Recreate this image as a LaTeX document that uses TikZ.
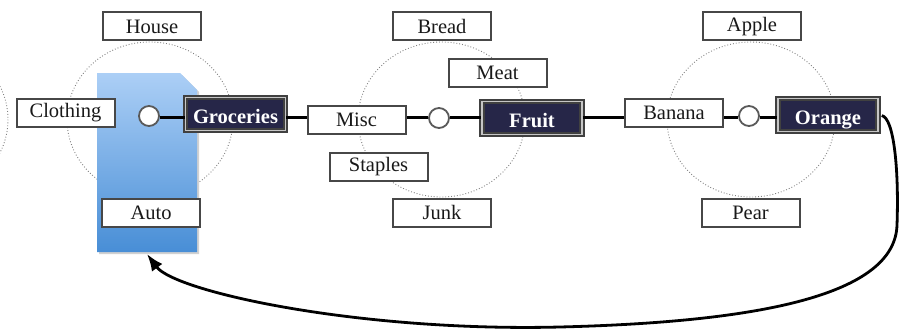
\documentclass[tikz,border=0pt]{standalone}
\usepackage{fontspec}
\setmainfont{Liberation Serif}
\usetikzlibrary{arrows.meta}
\definecolor{navy}{RGB}{38,38,72}
\definecolor{bluetop}{RGB}{172,207,246}
\definecolor{bluebot}{RGB}{72,142,214}
\begin{document}
\begin{tikzpicture}[x=1pt,y=-1pt,
  box/.style={draw=black!72, line width=2pt, fill=white, minimum width=98pt,
    minimum height=28pt, inner sep=0pt, font=\fontsize{20.5}{24}\selectfont, text=black!90},
  darkbox/.style={draw=black!75, line width=1.7pt, double=gray!45, double distance=1.7pt,
    fill=navy, minimum width=100pt, minimum height=33pt, inner sep=0pt,
    path picture={\node[text=white, font=\bfseries\fontsize{20.5}{24}\selectfont, anchor=base,
      inner sep=0pt] at ([yshift=-9.5pt]path picture bounding box.center) {#1};}},
  hub/.style={circle, draw=black!65, line width=1.8pt, fill=white, minimum size=20pt, inner sep=0pt},
  link/.style={line width=2.6pt, draw=black},
  ring/.style={draw=black!50, dotted, line width=0.9pt}]
\useasboundingbox (0,0) rectangle (899,329);
% dotted rings
\draw[ring] (-75,119.5) ellipse [x radius=83, y radius=77.5];
\draw[ring] (150,119.5) ellipse [x radius=83, y radius=77.5];
\draw[ring] (441.5,119.5) ellipse [x radius=83.5, y radius=77.5];
\draw[ring] (751,119.5) ellipse [x radius=84, y radius=77.5];
% blue document shape
\fill[black!18] (99,75) -- (182,75) -- (199,92) -- (199,254) -- (99,254) -- cycle;
\shade[top color=bluetop, bottom color=bluebot] (97,73) -- (180,73) -- (197,90) -- (197,252) -- (97,252) -- cycle;
% nodes
\node[box] (house) at (152,26.5) {House};
\node[box] (clothing) at (65.5,113) {Clothing};
\node[box] (auto) at (151,213) {Auto};
\node[hub] (h1) at (149,116) {};
\node[darkbox=Groceries] (groceries) at (235.5,114) {};
\node[box] (bread) at (442,26.5) {Bread};
\node[box] (meat) at (497.5,73) {Meat};
\node[box] (misc) at (356.5,120) {Misc};
\node[hub] (h2) at (439,118) {};
\node[darkbox=Fruit] (fruit) at (532,118) {};
\node[box] (staples) at (378.5,167) {Staples};
\node[box] (junk) at (442,212.5) {Junk};
\node[box] (apple) at (752,26.5) {Apple};
\node[box] (banana) at (674,113) {Banana};
\node[hub] (h3) at (749,116) {};
\node[darkbox=Orange] (orange) at (828,115) {};
\node[box] (pear) at (750.5,213) {Pear};
% connectors
\coordinate (ly) at (0,117.5);
\draw[link] (h1.east |- ly) -- (groceries.west |- ly);
\draw[link] (groceries.east |- ly) -- (misc.west |- ly);
\draw[link] (misc.east |- ly) -- (h2.west |- ly);
\draw[link] (h2.east |- ly) -- (fruit.west |- ly);
\draw[link] (fruit.east |- ly) -- (banana.west |- ly);
\draw[link] (banana.east |- ly) -- (h3.west |- ly);
\draw[link] (h3.east |- ly) -- (orange.west |- ly);
% return arrow
\coordinate (tip) at (147,254);
\draw[link, line width=2.8pt, shorten <=3pt, -{Latex[length=17pt,width=13pt]}]
  (orange.east) .. controls (894,118) and (899,170) .. (897,225)
  .. controls (895,295) and (760,322) .. (560,327)
  .. controls (360,332) and (175,292) .. (tip);
\end{tikzpicture}
\end{document}
